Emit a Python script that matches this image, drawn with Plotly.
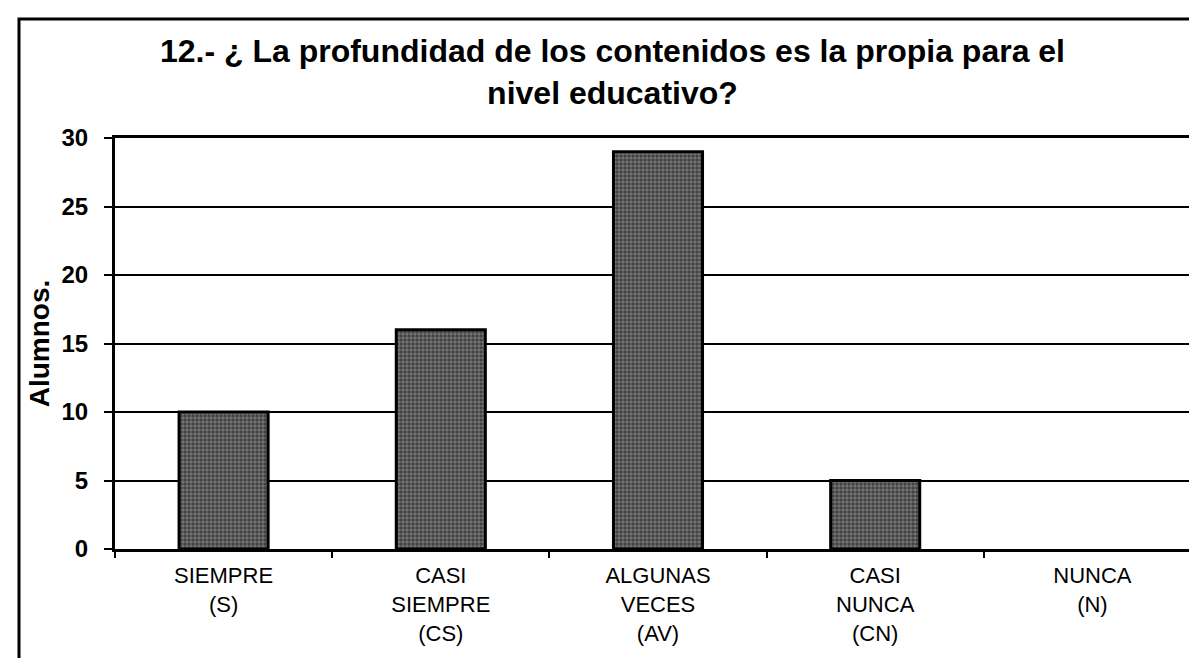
import plotly.graph_objects as go

categories = ["SIEMPRE<br>(S)", "CASI<br>SIEMPRE<br>(CS)", "ALGUNAS<br>VECES<br>(AV)", "CASI<br>NUNCA<br>(CN)", "NUNCA<br>(N)"]
values = [10, 16, 29, 5, 0]
y_ticks = [0, 5, 10, 15, 20, 25, 30]
title_text = "12.- ¿ La profundidad de los contenidos es la propia para el<br>nivel educativo?"
y_title = "Alumnos."

W, H = 1197, 658
L, R, T, B = 107, 4, 130, 117
pw, ph = W - L - R, H - T - B

fig = go.Figure()
fig.add_trace(go.Bar(
    x=categories, y=values,
    marker=dict(
        color="#5a5a5a",
        line=dict(color="black", width=[3 if v > 0 else 0 for v in values]),
        pattern=dict(shape=".", fgcolor="#0a0a0a", bgcolor="#7a7a7a", size=4, solidity=0.65),
    ),
    width=0.41,
    hoverinfo="skip",
))

def px_to_paper_x(px):
    return (px - L) / pw

def py_to_paper_y(py):
    return 1 - (py - T) / ph

fig.add_shape(type="rect", xref="paper", yref="paper",
              x0=px_to_paper_x(11), x1=px_to_paper_x(1205),
              y0=py_to_paper_y(675), y1=py_to_paper_y(11),
              line=dict(color="black", width=3), fillcolor="rgba(0,0,0,0)", layer="above")

fig.update_layout(
    width=W, height=H,
    margin=dict(l=L, r=R, t=T, b=B, autoexpand=False),
    paper_bgcolor="white", plot_bgcolor="white",
    showlegend=False,
    font=dict(family="Liberation Sans, Arial, sans-serif", color="black"),
    title=dict(text="<b>" + title_text + "</b>", font=dict(size=32, color="black"),
               x=0.505, xanchor="center", xref="container",
               y=1 - 54 / H, yanchor="top", yref="container"),
    xaxis=dict(
        type="category", tickson="boundaries", ticks="outside", ticklen=6, tickwidth=2, tickcolor="black",
        showline=True, linecolor="black", linewidth=3, mirror=True,
        showgrid=False, tickfont=dict(size=22, color="black"),
        ticklabelstandoff=5,
        range=[-0.5, 4.5],
    ),
    yaxis=dict(
        range=[0, 30], tickvals=y_ticks, ticks="outside", ticklen=8, tickwidth=2, tickcolor="black",
        showline=True, linecolor="black", linewidth=3, mirror=True,
        showgrid=True, gridcolor="black", gridwidth=2, zeroline=False,
        tickfont=dict(size=24, color="black", weight="bold"),
        ticklabelstandoff=11,
        title=dict(text="<b>" + y_title + "</b>", font=dict(size=28, color="black"), standoff=4),
    ),
)

fig.write_html("out.html")
